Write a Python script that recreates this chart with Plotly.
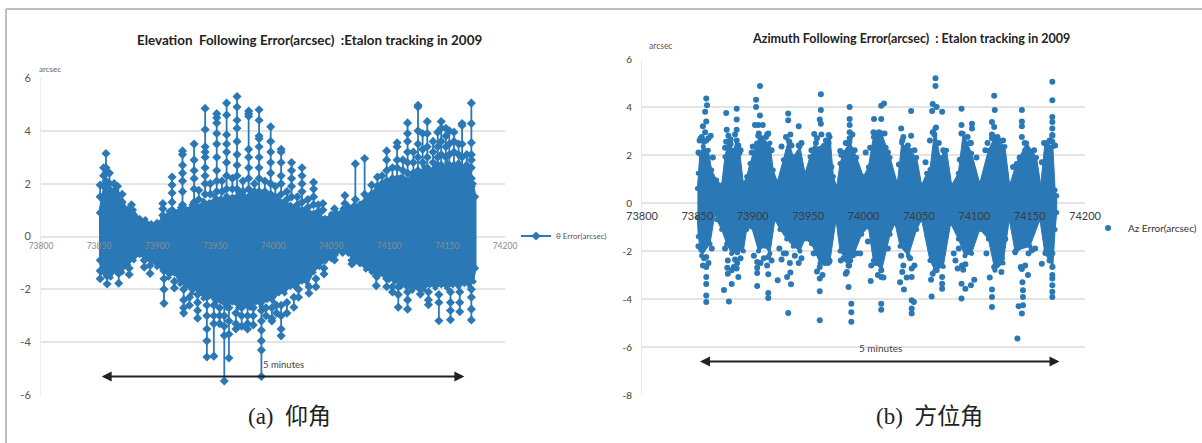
import plotly.graph_objects as go

BLUE = "#2a79b6"
W, H = 1202, 443

# ---------- Elevation: dense band envelope ----------
EL_BAND_X = [73850,73852,73855,73860,73865,73870,73875,73880,73885,73890,73895,73900,73905,73910,73915,73920,73925,73930,73935,73940,73945,73950,73955,73960,73965,73970,73975,73980,73985,73990,73995,74000,74005,74010,74015,74020,74025,74030,74035,74040,74045,74050,74055,74060,74065,74070,74075,74080,74085,74090,74095,74100,74105,74110,74115,74120,74125,74130,74135,74140,74145,74150,74155,74160,74165,74170,74173,74175]
EL_BAND_UP = [0.9,1.5,2.0,1.8,1.75,1.35,1.05,1.0,0.7,0.65,0.5,0.55,0.7,0.95,0.95,1.1,1.05,1.2,1.15,1.35,1.3,1.5,1.45,1.55,1.5,1.65,1.55,1.6,1.55,1.65,1.5,1.55,1.4,1.35,1.2,1.15,1.05,1.05,0.9,0.85,0.7,0.85,0.9,1.05,1.15,1.2,1.25,1.5,1.65,1.95,1.9,2.1,2.05,2.25,2.15,2.4,2.35,2.65,2.45,2.7,2.55,2.8,2.65,2.8,2.5,2.6,2.0,1.5]
EL_BAND_LOW = [-0.9,-1.35,-1.4,-1.55,-1.3,-1.35,-1.05,-0.9,-0.7,-0.9,-0.95,-1.15,-1.25,-1.55,-1.4,-1.8,-1.85,-2.15,-2.0,-2.35,-2.25,-2.55,-2.45,-2.7,-2.5,-2.7,-2.5,-2.7,-2.5,-2.65,-2.4,-2.45,-2.15,-2.15,-1.9,-1.95,-1.7,-1.8,-1.35,-1.15,-0.95,-0.85,-0.6,-0.65,-0.65,-1.0,-1.05,-1.25,-1.35,-1.55,-1.45,-1.65,-1.7,-1.9,-1.9,-2.05,-1.95,-2.0,-1.85,-1.95,-1.85,-1.95,-1.85,-1.9,-1.8,-1.9,-1.7,-1.2]

# ---------- Elevation: spikes above / below the band ----------
EL_UP_X = [73851,73854,73856,73859,73863,73866,73870,73878,73905,73913,73922,73932,73936,73941.5,73946,73951.5,73956,73960,73965,73969,73974,73979,73984,73988,73993,73998,74002,74007,74012,74016,74021,74025,74030,74035,74039,74043,74053,74062,74071,74079,74085,74090,74094,74098,74103,74107,74112,74116,74121,74125,74129,74133,74138,74142,74145,74149,74152,74156,74160,74163,74167,74171]
EL_UP_Y = [[1.95,1.5],[2.6,2.3,1.9],[3.14,2.6,2.4,2.1],[2.4,2.0],[2.0,1.7],[1.9,1.6],[1.6,1.3],[1.2,0.9],[1.25,1.05,0.8],[2.25,1.95,1.65,1.3,1.0],[3.24,3.1,2.7,2.4,2.1,1.7,1.2],[3.5,2.9,2.5,2.2,1.8,1.3],[1.75,1.4],[4.85,4.05,3.4,3.2,3.0,2.6,2.3,2.0,1.6],[2.0,1.6],[4.65,4.5,4.3,3.9,3.5,3.0,2.5,2.1,1.7],[2.1,1.7],[5.05,4.6,3.85,3.5,3.2,2.8,2.3,1.8],[2.2,1.8],[5.3,4.9,4.4,4.1,3.6,3.1,2.7,2.3,1.8],[2.1,1.7],[4.75,4.65,4.55,3.3,3.0,2.6,2.2,1.8],[2.0,1.7],[4.8,4.4,3.8,3.7,3.4,3.0,2.6,2.2,1.7],[2.1,1.7],[4.15,3.6,3.2,2.8,2.4,2.0,1.6],[1.9,1.5],[3.3,3.2,2.8,2.3,2.0,1.6],[1.7,1.4],[2.8,2.5,2.2,1.9,1.5],[1.5,1.2],[2.6,2.3,2.0,1.7,1.3],[1.4,1.1],[2.05,1.8,1.5,1.2],[1.2,0.95],[1.25,1.0],[1.05,0.85],[1.55,1.25,1.0],[2.75,1.4,1.1],[2.95,1.6,1.3],[1.95,1.6],[2.25,1.9,1.7],[2.3,2.0],[3.24,2.9,2.5,2.1],[2.6,2.2],[3.55,3.4,2.9,2.6,2.2],[2.9,2.5,2.2],[4.3,3.9,3.6,3.2,2.8,2.4],[3.2,2.8,2.4],[4.97,4.9,4.0,3.5,3.0,2.5],[3.9,3.3,2.8],[4.35,3.9,3.4,3.0,2.6],[3.6,3.2,2.8,2.5],[3.95,3.4,3.0,2.7],[4.35,4.1,3.6,3.1,2.7],[4.1,3.8,3.4,3.0,2.6],[4.0,3.5,3.1,2.7],[3.95,3.6,3.2,2.7],[3.5,3.1,2.7],[4.28,4.2,3.5,3.0,2.6],[3.1,2.7],[5.05,4.28,3.55,3.1,2.9,2.6,2.2,1.9]]
EL_LOW_X = [73851,73857,73867,73876,73889,73894,73906,73915,73923,73928,73935,73943,73949,73954,73958,73962,73968,73973,73978,73983,73990,73994,73999,74003,74007,74012,74018,74022,74031,74037,74044,74053,74068,74089,74098,74103,74108,74116,74127,74134,74143,74153,74161,74171]
EL_LOW_Y = [[-1.6,-1.3],[-1.8,-1.5],[-1.77,-1.4],[-1.44,-1.2],[-1.16,-0.9],[-1.4,-1.1],[-2.53,-2.0,-1.6,-1.3],[-1.95,-1.7],[-2.9,-2.7,-2.4,-2.0],[-2.6,-2.3],[-3.09,-2.8,-2.5,-2.2],[-4.56,-3.95,-3.5,-3.0,-2.6,-2.3],[-4.53,-3.3,-3.0,-2.6],[-3.3,-3.0,-2.7],[-5.47,-3.75,-3.4,-3.0,-2.5],[-4.6,-3.7,-3.2,-2.7],[-3.5,-3.3,-2.9],[-3.4,-3.0,-2.7],[-3.5,-3.3,-3.0,-2.6],[-3.35,-3.0,-2.7],[-5.3,-4.3,-3.95,-3.55,-3.2,-2.8],[-3.0,-2.7],[-3.2,-3.1,-2.7],[-2.9,-2.6],[-3.76,-3.5,-3.0,-2.6],[-2.9,-2.5],[-2.68,-2.3],[-2.3,-2.0],[-2.15,-1.9],[-1.9,-1.6],[-1.42,-1.2],[-0.89,-0.7],[-1.04,-0.9],[-1.86,-1.5],[-1.9,-1.6],[-2.1,-1.9],[-2.68,-2.2,-1.9],[-2.75,-2.4,-2.1],[-2.18,-2.0],[-2.58,-2.4,-2.1],[-3.19,-2.5,-2.2],[-3.15,-2.8,-2.5,-2.1],[-2.85,-2.5,-2.1],[-3.16,-2.75,-2.3,-2.0]]

# ---------- Azimuth: dense band outline, read lobe by lobe ----------
AZ_UP_X = [73850,73850.8,73852.3,73855.3,73859.9,73862.9,73867.4,73871.9,73874.9,73877.9,73882.4,73885.4,73888.4,73891.5,73894.5,73897.5,73903.5,73909.5,73915.5,73918.5,73922.2,73927.6,73932.1,73936.6,73942.6,73947.2,73951.7,73956.2,73963.7,73969.8,73972.8,73975.8,73978.8,73981.8,73987.8,73993.8,73999.9,74004.4,74008.9,74016.4,74024,74030.6,74034.5,74042,74048,74052.5,74057,74060,74064.5,74069,74075,74079.6,74085.6,74090,74097.6,74105,74112.7,74118.7,74127.7,74132,74138,74147.3,74156.3,74160,74163.8,74171,74173,74174.5]
AZ_UP_Y = [0.6,1.24,2.07,2.35,2.2,1.37,0.96,0.75,1.93,2.55,2.2,2.6,2.07,0.82,1.1,1.65,2.5,2.55,2.5,1.37,0.89,1.8,2.6,1.93,2.35,1.24,1.93,2.3,2.4,2.75,1.1,0.68,1.65,2.1,2.55,1.9,1.1,1.5,2.75,2.9,1.9,0.82,2.5,2.2,1.9,0.75,1.24,1.4,3.1,1.9,2.2,0.75,1.24,2.9,2.07,0.82,2.2,2.75,2.35,0.75,1.65,2.5,1.9,0.75,2.5,2.35,0.54,0.3]
AZ_LOW_X = [73850,73850.8,73853.8,73861.4,73865.9,73867.4,73871.9,73876.4,73880.9,73885.4,73891.5,73894.5,73899,73905.2,73911,73915.5,73920,73924.6,73930.6,73936.6,73942.6,73947.2,73953,73960.7,73969.8,73975.2,73978.8,73984.8,73990.8,73998.4,74004.4,74008.9,74016.4,74024,74028.5,74033,74040.5,74048,74052.5,74060,74064.5,74072,74078.7,74085.6,74091.6,74097.6,74105,74112.7,74118.7,74126,74131.6,74136.8,74150.3,74159.3,74163.8,74171,74173,74174.5]
AZ_LOW_Y = [-0.6,-1.4,-2.2,-1.7,-0.43,-0.7,-1.1,-1.7,-2.1,-2.0,-2.0,-1.1,-1.0,-2.0,-1.8,-2.1,-0.7,-1.1,-1.5,-1.8,-2.0,-1.5,-1.7,-2.5,-2.4,-0.7,-2.0,-2.4,-2.2,-1.3,-1.0,-2.4,-2.8,-1.3,-0.85,-1.8,-2.2,-1.1,-0.7,-2.4,-2.8,-2.65,-0.85,-1.5,-2.2,-2.1,-1.1,-1.5,-2.8,-2.5,-0.7,-2.0,-1.8,-0.7,-2.1,-2.65,-1.1,-0.4]

# ---------- Azimuth: scattered points outside the band ----------
AZ_OUT_X = [73858,73858.7,73857,73858,73855,73852,73854,73862,73857,73852.5,73876,73876.5,73876,73885.5,73885.5,73885.5,73885.5,73906.5,73903,73903,73906.5,73902,73905,73909,73914,73905.5,73900,73907,73910.5,73932,73932,73941.5,73933,73941.5,73961.5,73961.5,73960.5,73961.5,73955.5,73968.5,73968.5,73987.5,73987.5,73987.5,73987.5,73987.5,73979,74002,74009.5,74016,74016,74018.5,74009,74016,74019,74034,74035,74043,74043,74065,74065,74062.5,74066,74062,74071,74065.5,74062.5,74073,74088.5,74088.5,74088.5,74098,74098,74097,74118,74118.5,74116,74118,74121,74116,74143,74143,74143,74143,74145.5,74170.5,74170.5,74170.5,74170.5,74170.5,74170.5,74170.5,74163,
            73853,73856,73860,73878,73880,73884,73887,73905,73908,73912,73930,73934,73958,73962,73966,73985,73990,74011,74014,74020,74036,74040,74064,74068,74094,74112,74116,74122,74146,74150,74170.5,74168,74173,
            73851,73858,73864,73875,73880,73889,73899,73913,73917,73926,73935,73944,73953,73957,73971,73980,73984,73992,74006,74012,74022,74032,74046,74056,74060,74072,74087,74096,74102,74110,74126,74135,74141,74154,74161,74166,
            73858,73858,73858,73858,73858,73858,73853.5,73874,73878.5,73881,73877.5,73877.5,73883,73887,73885.5,73886,73904,73904,73904,73914,73914,73914,73914,73922.5,73932,73931,73934.5,73924,73928,73933.5,73941.5,73960.5,73960.5,73960.5,73960.5,73969,73986.5,73989,73989,73989,73985,73986.5,73997,73979.5,74006.5,74016,74016,74016,74016,74033,74036.5,74035,74043.5,74045.5,74043.5,74043.5,74043.5,74043.5,74061.5,74071,74071,74071,74062.5,74088.5,74088.5,74092,74097,74100,74085,74090,74081.5,74116,74116,74116,74124.5,74118,74123,74139,74143,74140,74144,74144,74144,74143.5,74148.5,74142,74137,74152,74161,74170.5,74170.5,74170.5,74170.5,74170.5,74170.5,
            73855,73860,73877,73881,73886,73904,73907,73913,73926,73934,73958,73963,73968,73984,73988,74007,74013,74018,74036,74039,74046,74061,74066,74083,74089,74092,74114,74120,74125,74143,74146,74170.5,
            73851,73856,73863,73875,73884,73889,73901,73910,73917,73930,73938,73944,73955,73965,73982,73987,73994,74004,74011,74022,74034,74042,74058,74069,74086,74094,74111,74121,74128,74139,74149,74155,74165,74168]
AZ_OUT_Y = [4.35,4.07,3.8,3.4,3.2,2.6,2.75,2.8,2.95,2.05,3.75,3.05,2.55,3.93,3.48,3.05,2.6,4.87,4.3,4.0,3.65,3.25,3.25,3.25,2.9,2.9,2.35,2.6,2.5,3.73,3.45,3.2,2.55,2.4,4.53,3.87,3.48,3.3,2.87,2.83,2.5,4.0,3.5,3.25,2.95,2.7,2.17,2.1,3.5,3.5,4.05,4.15,2.95,2.9,2.9,3.1,2.6,3.83,2.8,5.2,4.87,4.13,4.0,3.83,3.8,3.15,2.95,2.15,3.93,3.25,2.9,3.3,3.1,2.5,4.47,3.87,3.38,3.17,2.75,2.7,3.87,3.4,3.2,2.75,2.5,5.05,4.28,3.58,3.37,3.1,2.83,2.55,2.5,
            2.7,2.55,2.7,2.8,2.45,2.85,2.4,2.8,2.7,2.75,2.75,2.85,2.7,2.85,2.6,2.5,2.85,2.75,2.95,2.3,2.75,2.4,2.85,2.5,2.75,2.5,2.85,2.6,2.2,2.1,2.8,2.6,2.4,
            2.1,2.6,1.9,2.3,2.65,2.2,2.1,2.85,2.2,2.35,2.4,2.5,2.2,2.5,1.5,2.0,2.5,2.2,2.3,2.85,2.1,1.6,2.2,1.7,2.6,2.2,1.8,2.5,1.9,2.2,2.6,1.5,1.9,2.2,1.7,2.5,
            -4.13,-3.85,-3.37,-3.08,-2.67,-2.25,-1.95,-3.63,-4.1,-3.37,-2.95,-2.4,-2.67,-3.08,-2.73,-2.05,-3.46,-2.92,-2.46,-2.97,-3.75,-3.96,-2.25,-3.22,-4.58,-3.08,-3.39,-1.9,-2.1,-2.5,-2.5,-4.89,-3.68,-3.15,-2.67,-2.45,-3.5,-4.2,-4.55,-4.95,-2.87,-2.6,-2.1,-2.4,-3.25,-3.08,-2.8,-4.2,-4.45,-3.3,-3.6,-2.87,-4.05,-4.12,-4.4,-4.6,-3.08,-2.73,-3.9,-3.08,-3.36,-3.57,-2.95,-3.98,-3.36,-3.57,-3.43,-3.2,-2.73,-2.78,-2.1,-4.33,-3.92,-3.6,-2.87,-2.67,-2.45,-5.65,-4.6,-4.3,-4.26,-3.92,-3.64,-3.3,-3.0,-2.67,-2.05,-1.97,-2.53,-3.92,-3.7,-3.43,-3.15,-2.67,-2.1,
            -2.6,-2.5,-2.7,-2.8,-2.5,-2.7,-2.5,-2.6,-2.35,-2.9,-2.85,-3.0,-2.5,-2.95,-2.4,-2.6,-3.0,-3.1,-2.6,-3.1,-2.6,-3.2,-2.8,-2.4,-2.6,-2.55,-3.1,-2.6,-2.3,-2.75,-2.6,-3.0,
            -1.8,-2.3,-1.9,-1.9,-2.35,-2.3,-2.2,-2.3,-2.4,-2.1,-2.2,-2.3,-2.1,-2.5,-2.3,-2.6,-2.1,-1.6,-2.5,-1.9,-2.2,-2.3,-1.4,-2.5,-1.9,-2.0,-2.1,-2.3,-1.5,-1.9,-2.1,-1.9,-2.0,-2.4]

# ---------- Text ----------
EL_TITLE = "Elevation  Following Error(arcsec)  :Etalon tracking in 2009"
AZ_TITLE = "Azimuth Following Error(arcsec)  : Etalon tracking in 2009"
EL_NAME = "θ Error(arcsec)"
AZ_NAME = "Az Error(arcsec)"
CAPTION_A = "(a)  仰角"
CAPTION_B = "(b)  方位角"
X_TICKS = [73800, 73850, 73900, 73950, 74000, 74050, 74100, 74150, 74200]
EL_Y_TICKS = [-6, -4, -2, 0, 2, 4, 6]
AZ_Y_TICKS = [-8, -6, -4, -2, 0, 2, 4, 6]


def spike_points(xs, stacks):
    out_x, out_y = [], []
    for x, stack in zip(xs, stacks):
        out_x += [x] * len(stack) + [None]
        out_y += list(stack) + [None]
    return out_x, out_y


def px(v):
    return v / W


def py(v):
    return 1 - v / H


fig = go.Figure()

# Elevation traces
fig.add_trace(go.Scatter(
    x=EL_BAND_X + EL_BAND_X[::-1], y=EL_BAND_UP + EL_BAND_LOW[::-1],
    mode="lines+markers", fill="toself", fillcolor=BLUE,
    line=dict(color=BLUE, width=1), marker=dict(color=BLUE, size=5, symbol="diamond"),
    xaxis="x", yaxis="y", showlegend=False, hoverinfo="skip"))
ux, uy = spike_points(EL_UP_X + EL_LOW_X, EL_UP_Y + EL_LOW_Y)
fig.add_trace(go.Scatter(
    x=ux, y=uy, mode="lines+markers", name=EL_NAME, connectgaps=False,
    line=dict(color=BLUE, width=1.8), marker=dict(color=BLUE, size=7, symbol="diamond"),
    xaxis="x", yaxis="y", legend="legend"))

# Azimuth traces
fig.add_trace(go.Scatter(
    x=AZ_UP_X + AZ_LOW_X[::-1], y=AZ_UP_Y + AZ_LOW_Y[::-1],
    mode="lines+markers", fill="toself", fillcolor=BLUE,
    line=dict(color=BLUE, width=1), marker=dict(color=BLUE, size=5),
    xaxis="x2", yaxis="y2", showlegend=False, hoverinfo="skip"))
fig.add_trace(go.Scatter(
    x=AZ_OUT_X, y=AZ_OUT_Y, mode="markers", name=AZ_NAME,
    marker=dict(color=BLUE, size=6, symbol="circle"),
    xaxis="x2", yaxis="y2", legend="legend2"))

GRID = "#e4e4e4"
TICK_L = dict(size=8.5, family="Lato, sans-serif", color="#8a8a8a")
TICK_R = dict(size=11, family="Lato, sans-serif", color="#3c3c3c")

el_top, el_bot, el_zero = 78, 395, 236.5
az_top, az_bot, az_zero = 59, 395, 203

fig.update_layout(
    width=W, height=H, autosize=False,
    margin=dict(l=0, r=0, t=0, b=0, autoexpand=False),
    paper_bgcolor="white", plot_bgcolor="white",
    xaxis=dict(domain=[px(41), px(505)], range=[73800, 74200], tickvals=X_TICKS,
               ticktext=[str(t) for t in X_TICKS], showgrid=False, zeroline=False,
               anchor="free", position=py(el_zero), ticks="", showline=False,
               tickfont=TICK_L, layer="above traces", ticklabelstandoff=3),
    yaxis=dict(domain=[py(el_bot), py(el_top)], range=[-6, 6], tickvals=EL_Y_TICKS,
               ticktext=[str(t) for t in EL_Y_TICKS],
               gridcolor=GRID, gridwidth=1.5, zerolinecolor=GRID, zerolinewidth=1.5,
               anchor="x", ticks="", showline=True, linecolor="#ececec",
               tickfont=dict(TICK_L, size=11, color="#555"), ticklabelstandoff=7),
    xaxis2=dict(domain=[px(642), px(1085)], range=[73800, 74200], tickvals=X_TICKS,
                ticktext=[str(t) for t in X_TICKS], showgrid=False, zeroline=False,
                anchor="free", position=py(az_zero), ticks="", showline=False,
                tickfont=TICK_R, layer="above traces", ticklabelstandoff=5),
    yaxis2=dict(domain=[py(az_bot), py(az_top)], range=[-8, 6], tickvals=AZ_Y_TICKS,
                ticktext=[str(t) for t in AZ_Y_TICKS],
                gridcolor=GRID, gridwidth=1.5, zerolinecolor=GRID, zerolinewidth=1.5,
                anchor="x2", ticks="", showline=True, linecolor="#ececec",
                tickfont=dict(TICK_R, size=10), ticklabelstandoff=7),
    legend=dict(x=px(516), y=py(236), xanchor="left", yanchor="middle",
                font=dict(size=8, family="Lato, sans-serif", color="#555"),
                bgcolor="rgba(0,0,0,0)", itemwidth=30),
    legend2=dict(x=px(1088), y=py(228), xanchor="left", yanchor="middle",
                 font=dict(size=10, family="Lato, sans-serif", color="#333"),
                 bgcolor="rgba(0,0,0,0)", itemwidth=30),
    shapes=[
        dict(type="line", xref="paper", yref="paper", x0=px(6), x1=1, y0=py(9), y1=py(9),
             line=dict(color="#bdbdbd", width=2)),
        dict(type="line", xref="paper", yref="paper", x0=px(6), x1=px(6), y0=0, y1=py(9),
             line=dict(color="#bdbdbd", width=2)),
    ],
)


def label(text, xp, yp, size, color="#222", bold=False, family="Lato, sans-serif"):
    fig.add_annotation(text=f"<b>{text}</b>" if bold else text, xref="paper", yref="paper",
                       x=px(xp), y=py(yp), showarrow=False, xanchor="center", yanchor="middle",
                       font=dict(size=size, color=color, family=family))


label(EL_TITLE, 309, 40, 13.4, bold=True)
label(AZ_TITLE, 911, 38, 12.5, bold=True)
label("arcsec", 50, 69, 8, color="#666")
label("arcsec", 660, 46, 8.5, color="#555")
label("5 minutes", 283, 364, 9.5, color="#444")
label("5 minutes", 880, 348, 10, color="#444")
label(CAPTION_A, 289, 416, 23, family="Liberation Serif, Noto Sans CJK SC")
label(CAPTION_B, 929, 416, 23, family="Liberation Serif, Noto Sans CJK SC")

# Double-headed "5 minutes" arrows, in axis coordinates
for xr, yr, y0, x0, x1 in [("x", "y", -5.3, 73851, 74165), ("x2", "y2", -6.6, 73851, 74177)]:
    fig.add_annotation(x=x1, y=y0, ax=x0, ay=y0, xref=xr, yref=yr, axref=xr, ayref=yr,
                       text="", showarrow=True, arrowhead=2, startarrowhead=2,
                       arrowside="end+start", arrowwidth=2, arrowcolor="#222", arrowsize=1)

fig.write_html("out.html", config={"displayModeBar": False},
               post_script="document.body.style.margin='0';")
